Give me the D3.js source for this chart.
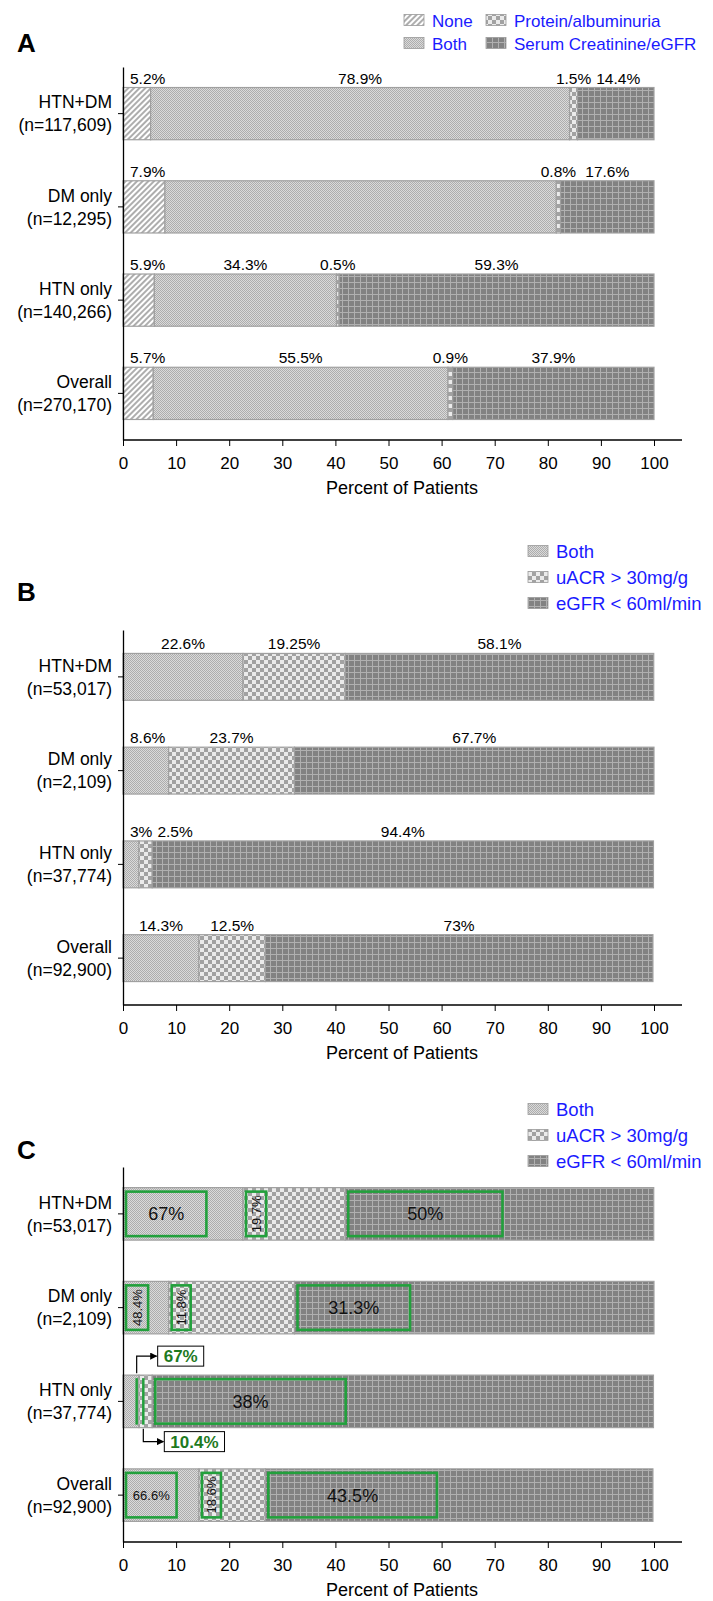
<!doctype html>
<html>

<head>
    <meta charset="utf-8">
    <title>Kidney testing by group</title>
    <script src="https://cdnjs.cloudflare.com/ajax/libs/d3/7.8.5/d3.min.js"></script>
    <style type="text/css">
        html,
        body {
            margin: 0;
            padding: 0;
            background: #fff;
        }

        svg text {
            font-family: "Liberation Sans", Arial, Helvetica, sans-serif;
        }
    </style>
</head>

<body>
    <div id="chart"></div>
    <script type="text/javascript">
        // categories, shared by all three panels
        var groups = ["HTN+DM", "DM only", "HTN only", "Overall"]
        var countsA = ["117,609", "12,295", "140,266", "270,170"]
        var countsBC = ["53,017", "2,109", "37,774", "92,900"]

        // panel A: testing done (percent of patients)
        var keysA = ["None", "Both", "Protein/albuminuria", "Serum Creatinine/eGFR"]
        var noneA = [5.2, 7.9, 5.9, 5.7]
        var bothA = [78.9, 73.7, 34.3, 55.5]
        var proteinA = [1.5, 0.8, 0.5, 0.9]
        var serumA = [14.4, 17.6, 59.3, 37.9]
        // segments printed without a value label
        var unlabeledA = ["DM only|Both"]

        // panel B: CKD identified by
        var keysB = ["Both", "uACR > 30mg/g", "eGFR < 60ml/min"]
        var bothB = [22.6, 8.6, 3, 14.3]
        var uacrB = [19.25, 23.7, 2.5, 12.5]
        var egfrB = [58.1, 67.7, 94.4, 73]

        // panel C: share of each segment that is highlighted (percent of segment)
        var bothC = [67, 48.4, 67, 66.6]
        var uacrC = [19.7, 11.8, 10.4, 18.6]
        var egfrC = [50, 31.3, 38, 43.5]

        var xTicks = [0, 10, 20, 30, 40, 50, 60, 70, 80, 90, 100]

        var W = 713, H = 1601
        var green = "#22a03c"

        var svg = d3.select("#chart")
            .append("svg")
            .attr("width", W)
            .attr("height", H)

        var defs = svg.append("defs")

        // fill patterns, one per kind of test
        function makePattern(id, size, transform) {
            var p = defs.append("pattern")
                .attr("id", id)
                .attr("patternUnits", "userSpaceOnUse")
                .attr("width", size)
                .attr("height", size)
            if (transform) p.attr("patternTransform", transform)
            return p
        }

        var pNone = makePattern("pNone", 4, "rotate(45)")
        pNone.append("rect").attr("width", 4).attr("height", 4).attr("fill", "#fff")
        pNone.append("line").attr("x1", 1).attr("y1", 0).attr("x2", 1).attr("y2", 4)
            .attr("stroke", "#6a6a6a").attr("stroke-width", 1.1)

        var pBoth = makePattern("pBoth", 2)
        pBoth.append("rect").attr("width", 2).attr("height", 2).attr("fill", "#dadada")
        pBoth.append("rect").attr("width", 1).attr("height", 1).attr("fill", "#adadad")
        pBoth.append("rect").attr("x", 1).attr("y", 1).attr("width", 1).attr("height", 1).attr("fill", "#adadad")

        var pChk = makePattern("pChk", 8)
        pChk.append("rect").attr("width", 8).attr("height", 8).attr("fill", "#ebebeb")
        pChk.append("rect").attr("width", 4).attr("height", 4).attr("fill", "#a2a2a2")
        pChk.append("rect").attr("x", 4).attr("y", 4).attr("width", 4).attr("height", 4).attr("fill", "#a2a2a2")

        var pGrid = makePattern("pGrid", 6)
        pGrid.append("rect").attr("width", 6).attr("height", 6).attr("fill", "#828282")
        pGrid.append("path").attr("d", "M0 0.5H6M0.5 0V6")
            .attr("stroke", "#b0b0b0").attr("stroke-width", 1)

        defs.append("marker")
            .attr("id", "arrow")
            .attr("viewBox", "0 0 10 10")
            .attr("refX", 9)
            .attr("refY", 5)
            .attr("markerWidth", 6)
            .attr("markerHeight", 6)
            .attr("orient", "auto")
            .append("path")
            .attr("d", "M0,0L10,5L0,10z")
            .attr("fill", "#000")

        var x = d3.scaleLinear().domain([0, 100]).range([123, 654])

        function drawPanel(p) {
            var g = svg.append("g")

            var y = d3.scaleBand()
                .domain(groups)
                .range([p.top, p.bottom])
                .paddingInner(p.pad)
                .paddingOuter(p.pad / 2)

            var rows = groups.map(function (name, i) {
                var r = { group: name }
                p.keys.forEach(function (k, j) { r[k] = p.series[j][i] })
                return r
            })
            var stacked = d3.stack().keys(p.keys)(rows)

            // panel letter
            g.append("text")
                .attr("x", 17)
                .attr("y", p.letterY)
                .style("font-size", "26px")
                .style("font-weight", "bold")
                .text(p.letter)

            // legend
            p.legend.forEach(function (item) {
                g.append("rect")
                    .attr("x", item.x)
                    .attr("y", item.y - 5.5)
                    .attr("width", 20)
                    .attr("height", 11)
                    .attr("fill", "url(#" + p.fills[item.key] + ")")
                    .attr("stroke", "#9a9a9a")
                    .attr("stroke-width", 0.8)
                g.append("text")
                    .attr("x", item.x + 28)
                    .attr("y", item.y + 6.5)
                    .attr("fill", "#1a1aff")
                    .style("font-size", p.legendSize + "px")
                    .text(item.key)
            })

            // stacked bars
            stacked.forEach(function (layer) {
                g.append("g")
                    .selectAll("rect")
                    .data(layer)
                    .join("rect")
                    .attr("x", function (d) { return x(d[0]) })
                    .attr("y", function (d) { return y(d.data.group) })
                    .attr("width", function (d) { return x(d[1]) - x(d[0]) })
                    .attr("height", y.bandwidth())
                    .attr("fill", "url(#" + p.fills[layer.key] + ")")
                    .attr("stroke", "#a0a0a0")
                    .attr("stroke-width", 1.2)
            })

            // value labels above each bar, nudged right so they never overlap
            if (p.valueLabels) {
                groups.forEach(function (grp, i) {
                    var prevRight = x(0) + 2
                    stacked.forEach(function (layer, j) {
                        var key = p.keys[j]
                        if (p.unlabeled && p.unlabeled.indexOf(grp + "|" + key) >= 0) return
                        var d = layer[i]
                        var t = g.append("text")
                            .attr("y", y(grp) - 4)
                            .attr("text-anchor", "middle")
                            .style("font-size", "15.5px")
                            .text(p.series[j][i] + "%")
                        var w = t.node().getComputedTextLength()
                        var cx = Math.max((x(d[0]) + x(d[1])) / 2, prevRight + 5 + w / 2)
                        t.attr("x", cx)
                        prevRight = cx + w / 2
                    })
                })
            }

            // highlighted share of each segment (panel C)
            if (p.shares) {
                groups.forEach(function (grp, i) {
                    var top = y(grp), bot = y(grp) + y.bandwidth()
                    var callouts = 0
                    stacked.forEach(function (layer, j) {
                        var d = layer[i]
                        var share = p.shares[j][i]
                        var segW = x(d[1]) - x(d[0])
                        var boxW = share / 100 * segW
                        var x0 = x(d[0]) + 3
                        var label = share + "%"

                        if (boxW < 12) {
                            // too thin: a single line with an arrow callout
                            var lx = x0 + boxW
                            g.append("line")
                                .attr("x1", lx).attr("x2", lx)
                                .attr("y1", top + 3).attr("y2", bot - 3)
                                .attr("stroke", green)
                                .attr("stroke-width", 2.5)
                            var above = callouts === 0
                            callouts++
                            var ay = above ? top - 19 : bot + 14
                            g.append("path")
                                .attr("d", "M" + lx + "," + (above ? top - 2 : bot + 1) + "V" + ay + "H" + (lx + 20))
                                .attr("fill", "none")
                                .attr("stroke", "#000")
                                .attr("stroke-width", 1.2)
                                .attr("marker-end", "url(#arrow)")
                            var box = g.append("rect")
                                .attr("x", lx + 21)
                                .attr("y", ay - 10)
                                .attr("height", 20)
                                .attr("fill", "#fff")
                                .attr("stroke", "#000")
                                .attr("stroke-width", 1)
                            var ct = g.append("text")
                                .attr("x", lx + 21 + 6)
                                .attr("y", ay + 6)
                                .attr("fill", "#1e7a1e")
                                .style("font-size", "17px")
                                .style("font-weight", "bold")
                                .text(label)
                            box.attr("width", ct.node().getComputedTextLength() + 12)
                            return
                        }

                        var bw = Math.max(boxW, 19)
                        g.append("rect")
                            .attr("x", x0)
                            .attr("y", top + 4)
                            .attr("width", bw)
                            .attr("height", y.bandwidth() - 8)
                            .attr("fill", "none")
                            .attr("stroke", green)
                            .attr("stroke-width", 2.6)

                        var cx = x0 + bw / 2, cy = (top + bot) / 2
                        var t = g.append("text")
                            .attr("text-anchor", "middle")
                            .attr("dy", "0.36em")
                            .attr("fill", "#111")
                            .text(label)
                        if (bw < 30) {
                            t.style("font-size", "13px")
                                .attr("transform", "translate(" + cx + "," + cy + ") rotate(-90)")
                        } else {
                            t.style("font-size", "18px").attr("x", cx).attr("y", cy)
                            if (t.node().getComputedTextLength() > bw - 10) t.style("font-size", "13px")
                        }
                    })
                })
            }

            // y axis with category ticks
            var yAxis = g.append("g")
                .attr("transform", "translate(" + x(0) + ",0)")
                .call(d3.axisLeft(y).tickSize(5).tickSizeOuter(0).tickFormat(""))
            yAxis.select(".domain").attr("stroke-width", 1.3)

            groups.forEach(function (grp, i) {
                var cy = y(grp) + y.bandwidth() / 2
                var t = g.append("text")
                    .attr("text-anchor", "end")
                    .style("font-size", "17.5px")
                t.append("tspan").attr("x", 112).attr("y", cy - 11.5 + 6.3).text(grp)
                t.append("tspan").attr("x", 112).attr("y", cy + 11.5 + 6.3).text("(n=" + p.counts[i] + ")")
            })

            // x axis
            var xAxis = g.append("g")
                .attr("transform", "translate(0," + p.bottom + ")")
                .call(d3.axisBottom(x).tickValues(xTicks).tickSize(6).tickSizeOuter(0).tickPadding(11))
            xAxis.select(".domain").remove()
            xAxis.append("line")
                .attr("x1", x(0)).attr("x2", 682)
                .attr("stroke", "#000").attr("stroke-width", 1.3)
            xAxis.selectAll(".tick text").style("font-size", "17px").attr("fill", "#000")

            g.append("text")
                .attr("x", 402)
                .attr("y", p.bottom + 54)
                .attr("text-anchor", "middle")
                .style("font-size", "18px")
                .text("Percent of Patients")
        }

        var fillsA = {}
        fillsA[keysA[0]] = "pNone"
        fillsA[keysA[1]] = "pBoth"
        fillsA[keysA[2]] = "pChk"
        fillsA[keysA[3]] = "pGrid"

        var fillsB = {}
        fillsB[keysB[0]] = "pBoth"
        fillsB[keysB[1]] = "pChk"
        fillsB[keysB[2]] = "pGrid"

        drawPanel({
            letter: "A", letterY: 52, top: 67, bottom: 440, pad: 0.44,
            keys: keysA, series: [noneA, bothA, proteinA, serumA], fills: fillsA,
            counts: countsA, valueLabels: true, unlabeled: unlabeledA,
            legendSize: 17,
            legend: [
                { key: keysA[0], x: 404, y: 20 },
                { key: keysA[1], x: 404, y: 43 },
                { key: keysA[2], x: 486, y: 20 },
                { key: keysA[3], x: 486, y: 43 }
            ]
        })

        drawPanel({
            letter: "B", letterY: 601, top: 630, bottom: 1005, pad: 0.5,
            keys: keysB, series: [bothB, uacrB, egfrB], fills: fillsB,
            counts: countsBC, valueLabels: true,
            legendSize: 18.5,
            legend: [
                { key: keysB[0], x: 528, y: 551 },
                { key: keysB[1], x: 528, y: 577 },
                { key: keysB[2], x: 528, y: 603 }
            ]
        })

        drawPanel({
            letter: "C", letterY: 1159, top: 1167, bottom: 1542, pad: 0.44,
            keys: keysB, series: [bothB, uacrB, egfrB], fills: fillsB,
            counts: countsBC, valueLabels: false, shares: [bothC, uacrC, egfrC],
            legendSize: 18.5,
            legend: [
                { key: keysB[0], x: 528, y: 1109 },
                { key: keysB[1], x: 528, y: 1135 },
                { key: keysB[2], x: 528, y: 1161 }
            ]
        })
    </script>
</body>

</html>
